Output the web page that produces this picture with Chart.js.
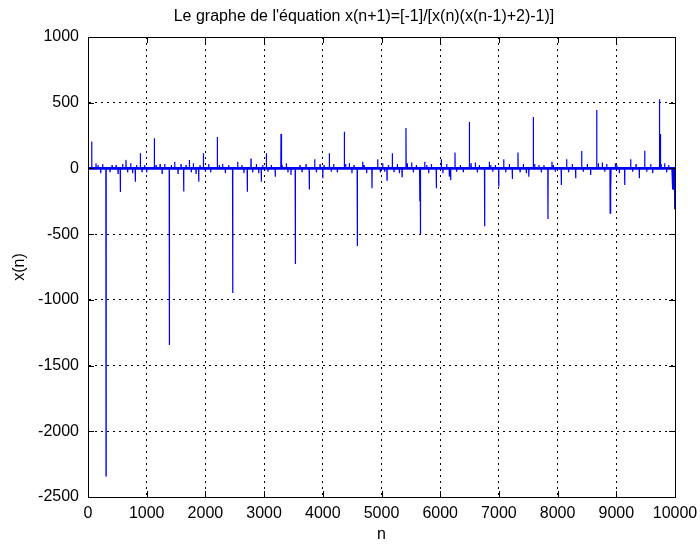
<!DOCTYPE html>
<html>
<head>
<meta charset="utf-8">
<script src="https://cdn.jsdelivr.net/npm/chart.js@4.4.1/dist/chart.umd.min.js"></script>
<style>
  body { margin: 0; background: #fff; }
</style>
</head>
<body>
<canvas id="graphe" width="700" height="544"></canvas>
<script>
// Graduations des axes
const ticksN = [0, 1000, 2000, 3000, 4000, 5000, 6000, 7000, 8000, 9000, 10000];
const ticksX = [-2500, -2000, -1500, -1000, -500, 0, 500, 1000];

// Pics (n, x(n)) -- entre deux pics la courbe revient a 0
const picsN = [
  63, 136, 170, 216, 250, 307, 375, 410, 478, 512, 551, 590, 647, 675, 727, 760, 806, 829, 892, 920, 965, 1000,
  1130, 1160, 1228, 1262, 1307, 1386, 1420, 1477, 1534, 1585, 1630, 1670, 1727, 1760, 1795, 1840, 1886, 1908, 1966, 2000, 2055, 2090,
  2203, 2237, 2293, 2340, 2396, 2465, 2550, 2623, 2657, 2714, 2777, 2805, 2868, 2908, 2953, 2976, 3038, 3066, 3123, 3190,
  3288, 3305, 3379, 3407, 3458, 3532, 3612, 3646, 3714, 3770, 3862, 3891, 3953, 4000, 4021, 4111, 4145, 4185, 4247,
  4367, 4390, 4452, 4497, 4532, 4588, 4679, 4702, 4747, 4838, 4935, 4980, 5020, 5054, 5094, 5117, 5184, 5213, 5270, 5305, 5350,
  5417, 5440, 5514, 5542, 5593, 5652, 5663, 5736, 5770, 5804, 5850, 5934, 6019, 6047, 6110, 6155, 6178, 6252, 6280, 6343, 6394,
  6497, 6525, 6599, 6633, 6667, 6757, 6837, 6860, 6894, 6940, 6997, 7082, 7116, 7178, 7229, 7325, 7360, 7416, 7467,
  7510, 7586, 7609, 7683, 7723, 7768, 7836, 7904, 7927, 7960, 8063, 8154, 8188, 8250, 8308, 8410, 8438, 8506, 8563,
  8666, 8694, 8762, 8802, 8836, 8895, 8908, 8984, 9007, 9052, 9143, 9245, 9279, 9336, 9392, 9484, 9518, 9586, 9620,
  9733, 9745, 9762, 9824, 9858, 9892, 9950, 9962, 9978, 9993
];
const picsX = [
  205, 39, 26, -37, 33, -2340, -25, 26, 26, -37, -180, 33, 65, -30, 39, -37, -101, 26, 115, -25, 26, -30,
  230, 26, 33, -37, 33, -1343, 26, 51, -37, 33, -175, 26, 65, -30, 39, -37, -101, 26, 115, -25, 33, -30,
  240, 26, 33, -37, 26, -948, 51, 26, -37, -177, 75, -30, 33, -37, -101, 26, 115, -25, 26, -63,
  262, 26, 39, -30, -50, -727, 26, -25, 33, -160, 70, -30, 33, -75, 26, 115, -25, 33, -30,
  280, 33, 39, -37, 26, -590, 51, 26, -37, -150, 70, -30, 39, -25, -90, 26, 115, -25, 33, -37, -63,
  307, 39, 45, -30, 26, -250, -500, 51, 26, -37, 33, -150, 70, -37, 33, -63, -90, 122, -25, 26, -30,
  353, 39, 45, -30, 26, -440, 51, 26, -25, 26, -140, 70, -30, 33, -80, 122, -25, 33, -37,
  -63, 392, 33, 26, -30, 26, -385, 51, 26, -25, -126, 70, -30, 33, -75, 132, -25, 33, -50,
  445, 39, 45, -25, 33, -340, -165, 39, 26, -37, -126, 70, -25, 33, -75, 135, -25, 33, -37,
  527, 262, 33, 39, -30, 26, -45, -160, -165, -310
];

// Bande d'oscillation serree autour de 0
const bandeN = [0, 10000];
const bandeHaut = [10, 10];
const bandeBas = [-10, -10];

const police = "'Liberation Sans', Arial, sans-serif";

// construit la courbe : chaque pic part de 0 et y revient
function construireCourbe() {
  const pts = [{ x: 0, y: 0 }];
  picsN.forEach((n, i) => {
    pts.push({ x: n - 3, y: 0 });
    pts.push({ x: n, y: picsX[i] });
    pts.push({ x: n + 3, y: 0 });
  });
  pts.push({ x: 10000, y: 0 });
  return pts;
}

// cadre + petites graduations vers l'interieur (style matlab)
const cadreMatlab = {
  id: 'cadreMatlab',
  afterDraw(chart) {
    const { ctx, chartArea: a, scales } = chart;
    const t = 6;
    ctx.save();
    ctx.strokeStyle = '#000';
    ctx.lineWidth = 1;
    ctx.beginPath();
    ticksN.forEach(v => {
      const px = Math.round(scales.x.getPixelForValue(v)) + 0.5;
      ctx.moveTo(px, a.bottom); ctx.lineTo(px, a.bottom - t);
      ctx.moveTo(px, a.top); ctx.lineTo(px, a.top + t);
    });
    ticksX.forEach(v => {
      const py = Math.round(scales.y.getPixelForValue(v)) + 0.5;
      ctx.moveTo(a.left, py); ctx.lineTo(a.left + t, py);
      ctx.moveTo(a.right, py); ctx.lineTo(a.right - t, py);
    });
    ctx.stroke();
    ctx.strokeRect(Math.round(a.left) + 0.5, Math.round(a.top) + 0.5,
      Math.round(a.right - a.left), Math.round(a.bottom - a.top));
    // titre
    ctx.fillStyle = '#000';
    ctx.font = '16px ' + police;
    ctx.textAlign = 'center';
    ctx.textBaseline = 'middle';
    ctx.fillText("Le graphe de l'équation x(n+1)=[-1]/[x(n)(x(n-1)+2)-1)]", 364, 17);
    ctx.restore();
  }
};

const ctx = document.getElementById('graphe').getContext('2d');
new Chart(ctx, {
  type: 'scatter',
  data: {
    datasets: [
      {
        label: 'x(n)',
        data: construireCourbe(),
        showLine: true,
        borderColor: '#0000ff',
        borderWidth: 1.2,
        pointRadius: 0,
        tension: 0,
        fill: false
      },
      {
        label: 'haut',
        data: bandeN.map((n, i) => ({ x: n, y: bandeHaut[i] })),
        showLine: true,
        borderWidth: 0,
        pointRadius: 0,
        backgroundColor: '#0000ff',
        fill: '+1'
      },
      {
        label: 'bas',
        data: bandeN.map((n, i) => ({ x: n, y: bandeBas[i] })),
        showLine: true,
        borderWidth: 0,
        pointRadius: 0,
        fill: false
      }
    ]
  },
  options: {
    responsive: false,
    animation: false,
    devicePixelRatio: 1,
    layout: { padding: { top: 37, right: 25, left: 0, bottom: 0 } },
    plugins: {
      legend: { display: false },
      tooltip: { enabled: false },
      title: { display: false }
    },
    scales: {
      x: {
        type: 'linear',
        min: 0,
        max: 10000,
        afterBuildTicks: s => { s.ticks = ticksN.map(v => ({ value: v })); },
        afterFit: s => { s.height = 47; s.paddingLeft = 0; s.paddingRight = 0; },
        grid: { color: '#000', lineWidth: 1, drawTicks: false },
        border: { display: true, color: '#000', dash: [2, 4] },
        ticks: { color: '#000', padding: 7, maxRotation: 0, callback: v => String(v), font: { family: police, size: 16 } },
        title: { display: true, text: 'n', color: '#000', font: { family: police, size: 16, lineHeight: 1 }, padding: { top: 0, bottom: 1 } }
      },
      y: {
        type: 'linear',
        min: -2500,
        max: 1000,
        afterBuildTicks: s => { s.ticks = ticksX.map(v => ({ value: v })); },
        afterFit: s => { s.width = 88; s.paddingTop = 0; s.paddingBottom = 0; },
        grid: { color: '#000', lineWidth: 1, drawTicks: false },
        border: { display: true, color: '#000', dash: [2, 4] },
        ticks: { color: '#000', padding: 9, callback: v => String(v), font: { family: police, size: 16 } },
        title: { display: true, text: 'x(n)', color: '#000', font: { family: police, size: 16, lineHeight: 1 }, padding: { top: 12, bottom: 0 } }
      }
    }
  },
  plugins: [cadreMatlab]
});
</script>
</body>
</html>
